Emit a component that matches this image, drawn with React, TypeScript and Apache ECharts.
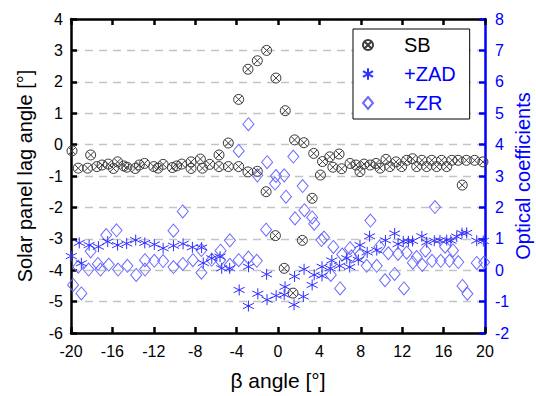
import React, { useEffect, useRef } from "react";
import * as echarts from "echarts";

const FONT = 'Arial, "Liberation Sans", Helvetica, sans-serif';

// β angle tick labels (x axis)
const betaTicks = [-20, -16, -12, -8, -4, 0, 4, 8, 12, 16, 20];

// SB: [β angle (°), solar panel lag angle (°)]
const sbPoints: number[][] = [
  [-19.9, -0.2], [-19.3, -0.75], [-18.4, -0.75], [-18.1, -0.33], [-17.5, -0.7], [-17.0, -0.65],
  [-16.4, -0.62], [-15.9, -0.76], [-15.5, -0.55], [-14.9, -0.68], [-14.6, -0.72], [-13.8, -0.76],
  [-13.4, -0.65], [-12.9, -0.6], [-12.0, -0.7], [-11.6, -0.75], [-11.1, -0.63], [-10.2, -0.73],
  [-9.8, -0.68], [-9.3, -0.62], [-8.4, -0.55], [-8.4, -0.76], [-7.5, -0.46], [-7.3, -0.75],
  [-6.6, -0.63], [-5.7, -0.33], [-5.7, -0.7], [-4.8, 0.05], [-4.8, -0.7], [-3.8, 1.44],
  [-3.8, -0.7], [-2.9, 2.4], [-2.9, -0.87], [-2.0, 2.67], [-2.0, -0.85], [-1.1, 3.0],
  [-1.15, -1.5], [-0.2, 2.12], [-0.25, -2.9], [0.7, 1.08], [0.6, -3.94], [1.6, 0.15],
  [1.45, -4.73], [2.5, 0.06], [2.35, -3.05], [3.45, -0.28], [3.3, -1.71], [4.3, -0.54],
  [4.1, -0.97], [5.0, -0.39], [5.3, -0.72], [5.9, -0.3], [6.15, -0.77], [6.96, -0.6],
  [7.54, -0.65], [7.92, -0.86], [8.31, -0.62], [8.9, -0.65], [9.47, -0.6], [9.86, -0.75],
  [10.43, -0.47], [10.8, -0.7], [11.4, -0.55], [11.95, -0.7], [12.43, -0.5], [13.0, -0.45],
  [13.4, -0.7], [13.9, -0.5], [14.37, -0.7], [14.85, -0.5], [15.33, -0.7], [15.8, -0.5],
  [16.3, -0.7], [16.8, -0.5], [17.4, -0.5], [17.8, -1.29], [18.2, -0.5], [19.0, -0.5], [19.8, -0.55],
];

// +ZAD: [β angle (°), optical coefficient]
const zadPoints: number[][] = [
  [-19.97, 0.45], [-19.2, 0.87], [-19.0, 0.22], [-18.25, 0.8], [-17.35, 0.75], [-16.45, 0.91],
  [-15.5, 0.8], [-14.62, 0.85], [-13.75, 0.96], [-12.87, 0.87], [-11.95, 0.82], [-11.1, 0.7],
  [-10.1, 0.78], [-9.17, 0.84], [-8.27, 0.73], [-7.38, 0.72], [-7.22, 0.23], [-6.4, 0.38],
  [-5.6, 0.43], [-5.44, 0.06], [-4.67, 0.06], [-3.75, -0.63], [-2.86, -1.14], [-2.85, 0.11],
  [-1.95, -0.75], [-1.1, -0.13], [-1.06, -0.94], [-0.18, -0.81], [0.6, -0.78], [0.68, -0.53],
  [1.55, -1.1], [1.6, -0.2], [2.45, -0.84], [2.52, 0.03], [3.3, -0.47], [3.5, -0.15],
  [4.25, 0.11], [4.25, -0.18], [5.05, 0.06], [5.2, 0.31], [5.95, 0.14], [6.64, 0.38],
  [6.93, 0.1], [7.76, 0.33], [7.92, 0.8], [8.62, 0.57], [8.85, 1.08], [9.54, 0.64],
  [10.38, 0.95], [11.27, 1.17], [11.6, 0.83], [12.1, 0.92], [12.6, 0.92], [13.0, 0.93],
  [13.9, 1.08], [14.37, 0.89], [15.1, 0.94], [15.65, 0.95], [16.3, 0.96], [16.7, 0.94],
  [17.27, 1.07], [17.78, 1.18], [18.23, 1.19], [19.2, 0.94], [19.84, 0.93],
];

// +ZR: [β angle (°), optical coefficient]
const zrPoints: number[][] = [
  [-19.8, -0.47], [-19.0, -0.74], [-19.3, 0.11], [-18.3, 0.02], [-18.1, 0.6], [-17.4, 0.2],
  [-17.15, 0.02], [-16.6, 1.12], [-16.35, 0.18], [-15.6, 1.27], [-15.45, 0.02], [-14.55, 0.14],
  [-13.7, -0.15], [-12.85, 0.32], [-12.85, 0.02], [-11.95, 0.3], [-11.1, 0.29], [-10.1, 1.26],
  [-10.1, 0.1], [-9.2, 1.87], [-9.2, 0.2], [-8.22, 0.32], [-7.4, 0.64], [-7.4, -0.08],
  [-6.4, 0.33], [-5.55, 0.62], [-5.6, 0.32], [-4.65, 0.95], [-4.65, 0.17], [-3.8, 3.8],
  [-3.8, 0.32], [-2.86, 4.65], [-2.86, 0.4], [-2.0, 3.02], [-2.05, 0.3], [-1.05, 3.44],
  [-1.15, 1.29], [-0.2, 3.0], [-0.29, 2.76], [0.6, 3.02], [0.77, 2.34], [1.48, 3.62],
  [1.64, 1.65], [2.38, 2.68], [2.55, 1.91], [3.3, 1.68], [3.5, 1.48], [4.2, 0.96],
  [4.45, 1.04], [5.1, -0.15], [5.35, 0.74], [6.0, -0.58], [6.2, 0.5], [6.96, 0.7],
  [7.1, 0.44], [7.92, 0.5], [8.57, 0.14], [8.93, 1.58], [9.54, 0.14], [9.8, 0.75],
  [10.34, -0.32], [10.66, 0.54], [11.27, -0.12], [11.6, 0.52], [12.17, -0.58], [12.43, 0.56],
  [13.03, 0.24], [13.4, 0.42], [13.94, 0.17], [14.25, 0.62], [14.88, 0.3], [15.17, 2.01],
  [15.72, 0.3], [16.14, 0.75], [16.57, 0.3], [16.91, 0.63], [17.42, 0.26], [17.82, -0.5],
  [18.3, -0.75], [19.2, 0.23], [19.92, 0.25],
];

const seriesNames = ["SB", "+ZAD", "+ZR"];

const CIRCLE_X =
  "path://M10,1 A9,9 0 1 1 10,19 A9,9 0 1 1 10,1 Z M3.64,3.64 L16.36,16.36 M16.36,3.64 L3.64,16.36";
const ASTERISK =
  "path://M10,0 L10,20 M1.34,5 L18.66,15 M1.34,15 L18.66,5";

export default function App() {
  const ref = useRef<HTMLDivElement>(null);

  useEffect(() => {
    const chart = echarts.init(ref.current!, null, { renderer: "svg" });
    const blackLine = { onZero: false, lineStyle: { color: "#000", width: 2.5 } };
    const blueLine = { onZero: false, lineStyle: { color: "#0000ff", width: 2.5 } };
    chart.setOption({
      animation: false,
      backgroundColor: "#fff",
      grid: { left: 71, right: 51, top: 19, bottom: 63, outerBoundsMode: "none", containLabel: false },
      xAxis: [
        {
          type: "value",
          position: "bottom",
          min: -20,
          max: 20,
          interval: 4,
          axisLine: blackLine,
          axisTick: { inside: true, length: 6, lineStyle: { color: "#000", width: 2.5 } },
          axisLabel: {
            color: "#000",
            fontSize: 16,
            fontFamily: FONT,
            margin: 10,
            formatter: (v: number) => (betaTicks.includes(v) ? String(v) : ""),
          },
          splitLine: { show: false },
          name: "β angle [°]",
          nameLocation: "middle",
          nameGap: 37,
          nameMoveOverlap: false,
          nameTextStyle: { color: "#000", fontSize: 21, fontFamily: FONT },
        },
        {
          type: "value",
          position: "top",
          min: -20,
          max: 20,
          interval: 4,
          axisLine: blackLine,
          axisTick: { inside: true, length: 6, lineStyle: { color: "#000", width: 2.5 } },
          axisLabel: { show: false },
          splitLine: { show: false },
        },
      ],
      yAxis: [
        {
          type: "value",
          position: "left",
          min: -6,
          max: 4,
          interval: 1,
          axisLine: blackLine,
          axisTick: { inside: true, length: 6, lineStyle: { color: "#000", width: 2.5 } },
          axisLabel: { color: "#000", fontSize: 16, fontFamily: FONT, margin: 8 },
          splitLine: { show: true, lineStyle: { color: "#c4c4c4", width: 1.3, type: [8, 6] } },
          name: "Solar panel lag angle [°]",
          nameLocation: "middle",
          nameGap: 36,
          nameMoveOverlap: false,
          nameTextStyle: { color: "#000", fontSize: 20, fontFamily: FONT },
        },
        {
          type: "value",
          position: "right",
          min: -2,
          max: 8,
          interval: 1,
          axisLine: blueLine,
          axisTick: { inside: true, length: 6, lineStyle: { color: "#0000ff", width: 2.5 } },
          axisLabel: { color: "#0000ff", fontSize: 16, fontFamily: FONT, margin: 10 },
          splitLine: { show: false },
          name: "Optical coefficients",
          nameLocation: "middle",
          nameGap: 28,
          nameMoveOverlap: false,
          nameTextStyle: { color: "#0000ff", fontSize: 20, lineHeight: 20, fontFamily: FONT },
        },
      ],
      legend: {
        orient: "vertical",
        left: 353,
        top: 29,
        backgroundColor: "#fff",
        borderColor: "#000",
        borderWidth: 1,
        borderRadius: 0,
        padding: [6, 14, 6, 9],
        itemWidth: 10,
        itemHeight: 12,
        itemGap: 9,
        textStyle: { fontSize: 20, fontFamily: FONT, padding: [0, 0, 0, 26] },
        data: [
          { name: seriesNames[0], textStyle: { color: "#000" } },
          { name: seriesNames[1], textStyle: { color: "#0000ff" } },
          { name: seriesNames[2], textStyle: { color: "#0000ff" } },
        ],
      },
      series: [
        {
          name: seriesNames[2],
          type: "scatter",
          xAxisIndex: 0,
          yAxisIndex: 1,
          data: zrPoints,
          symbol: "diamond",
          symbolSize: [11, 13],
          itemStyle: { color: "rgba(0,0,0,0)", borderColor: "#6b6bff", borderWidth: 1, opacity: 1 },
          emphasis: { disabled: true },
          z: 2,
        },
        {
          name: seriesNames[1],
          type: "scatter",
          xAxisIndex: 0,
          yAxisIndex: 1,
          data: zadPoints,
          symbol: ASTERISK,
          symbolSize: 11,
          itemStyle: { color: "rgba(0,0,0,0)", borderColor: "#2f2fff", borderWidth: 1, opacity: 1 },
          emphasis: { disabled: true },
          z: 3,
        },
        {
          name: seriesNames[0],
          type: "scatter",
          xAxisIndex: 0,
          yAxisIndex: 0,
          data: sbPoints,
          symbol: CIRCLE_X,
          symbolSize: 10,
          itemStyle: { color: "rgba(0,0,0,0)", borderColor: "#3a3a3a", borderWidth: 1, opacity: 1 },
          emphasis: { disabled: true },
          z: 4,
        },
      ],
    });
    return () => chart.dispose();
  }, []);

  return (
    <div
      ref={ref}
      style={{ position: "absolute", left: 0, top: 0, width: 536, height: 396, background: "#fff" }}
    />
  );
}
